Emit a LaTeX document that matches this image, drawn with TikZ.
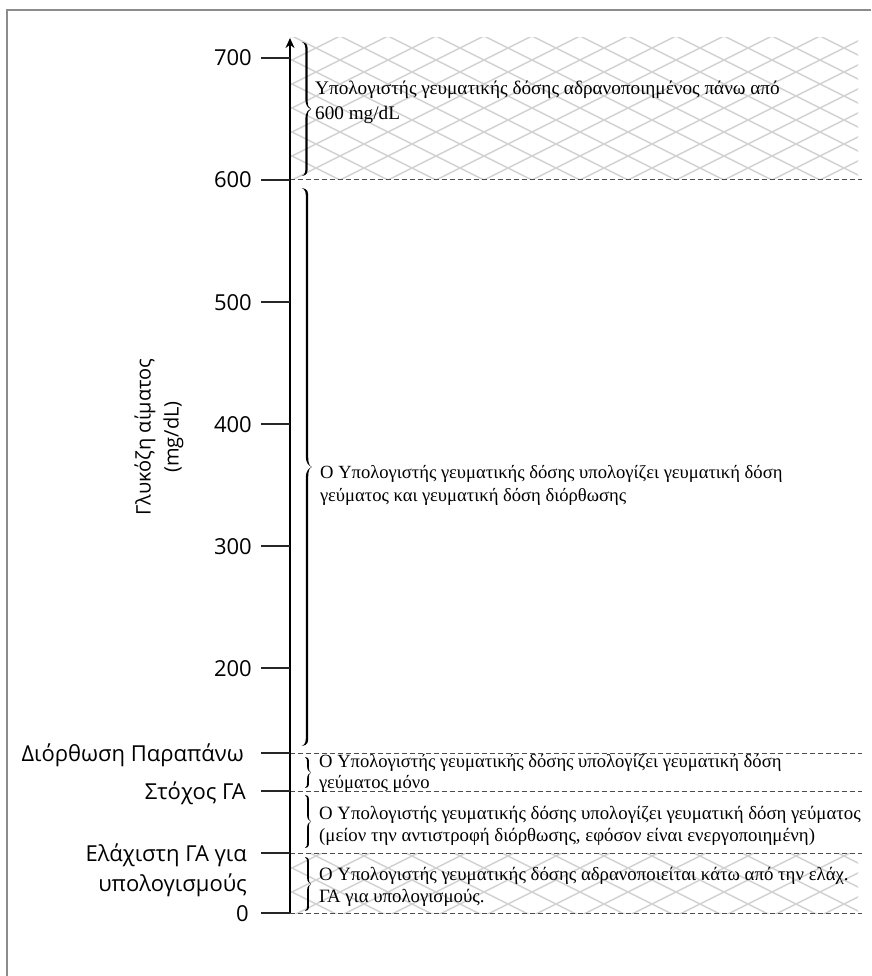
\documentclass[tikz,border=0pt]{standalone}
\usepackage{fontspec}
\setmainfont{Liberation Serif}
\newfontfamily\labelfont{Open Sans}
\usetikzlibrary{arrows.meta}
\definecolor{framegray}{gray}{0.55}
\definecolor{hatchgray}{gray}{0.82}
\definecolor{dashgray}{gray}{0.3}
\newcommand{\twoln}[2]{\begin{tabular}[t]{@{}l@{}}#1\\#2\end{tabular}}
% calligraphic brace pointing right: #1 x, #2 top y, #3 bottom y, #4 amplitude, #5 stroke width
\newcommand{\cbrace}[5]{%
  \pgfmathsetmacro{\bym}{(#2+#3)/2}%
  \pgfmathsetmacro{\bxr}{#1+0.5*#4+0.5*#5}%
  \pgfmathsetmacro{\bxl}{#1+0.5*#4-0.5*#5}%
  \pgfmathsetmacro{\bxt}{#1+#4}%
  \fill[black]
    (#1,#2) .. controls ({\bxr},{#2+0.1*#4}) and ({\bxr},{#2+0.4*#4}) .. ({\bxr},{#2+#4})
    -- ({\bxr},{\bym-#4}) .. controls ({\bxr},{\bym-0.35*#4}) and ({#1+0.75*#4},{\bym-0.08*#4}) .. ({\bxt},{\bym})
    .. controls ({#1+0.75*#4},{\bym+0.08*#4}) and ({\bxr},{\bym+0.35*#4}) .. ({\bxr},{\bym+#4})
    -- ({\bxr},{#3-#4}) .. controls ({\bxr},{#3-0.4*#4}) and ({\bxr},{#3-0.1*#4}) .. (#1,#3)
    .. controls ({\bxl},{#3-0.2*#4}) and ({\bxl},{#3-0.5*#4}) .. ({\bxl},{#3-#4})
    -- ({\bxl},{\bym+#4}) .. controls ({\bxl},{\bym+0.45*#4}) and ({#1+0.7*#4},{\bym+0.05*#4}) .. ({\bxt},{\bym})
    .. controls ({#1+0.7*#4},{\bym-0.05*#4}) and ({\bxl},{\bym-0.45*#4}) .. ({\bxl},{\bym-#4})
    -- ({\bxl},{#2+#4}) .. controls ({\bxl},{#2+0.5*#4}) and ({\bxl},{#2+0.2*#4}) .. (#1,#2) -- cycle;%
}
\begin{document}
\begin{tikzpicture}[x=1pt,y=-1pt,
  lbl/.style={font=\labelfont\fontsize{22}{26}\selectfont, anchor=base east, inner sep=0pt},
  note/.style={font=\fontsize{18.6}{23}\selectfont, anchor=base west, inner sep=0pt},
  tickln/.style={line width=1.2pt, black!85},
  dashln/.style={dashgray, line width=1pt, dash pattern=on 5pt off 3pt},
  hatch/.style={hatchgray, line width=1.4pt},
]
\useasboundingbox (0,0) rectangle (871,976);
% hatched zones
\begin{scope}
  \clip (290,38) rectangle (858,180);
  \foreach \c in {-330,-306,...,500} {
    \draw[hatch] (280,\c) -- (880,\c+300);
    \draw[hatch] (280,\c+300) -- (880,\c);
  }
\end{scope}
\begin{scope}
  \clip (290,853) rectangle (858,913);
  \foreach \c in {430,454,...,1200} {
    \draw[hatch] (280,\c) -- (880,\c+300);
    \draw[hatch] (280,\c+300) -- (880,\c);
  }
\end{scope}
% frame
\coordinate (fb) at (7,976);
\coordinate (ftl) at (7,10);
\coordinate (ftr) at (871,10);
\draw[framegray, line width=2pt] (fb) -- (ftl) -- (ftr);
% dashed levels
\foreach \y/\n in {180/d600,753/dcor,791/dtgt,853/dmin,913/dzero} {
  \coordinate (\n a) at (290,\y);
  \coordinate (\n b) at (862,\y);
  \draw[dashln] (\n a) -- (\n b);
}
% axis
\coordinate (ax0) at (290,913);
\coordinate (axtop) at (290,38);
\draw[line width=1.6pt, -{Stealth[length=10pt,width=9pt]}] (ax0) -- (axtop);
% numeric ticks
\foreach \v/\y in {700/58,600/180,500/302,400/424,300/546,200/668} {
  \node[lbl] (n\v) at (252,\y+8) {\v};
  \coordinate (t\v a) at (261,\y);
  \coordinate (t\v b) at (290,\y);
  \draw[tickln] (t\v a) -- (t\v b);
}
% text ticks
\node[lbl] (lcor) at (244,761) {Διόρθωση Παραπάνω};
\node[lbl] (ltgt) at (246,799) {Στόχος ΓΑ};
\node[lbl] (lmin1) at (247,861) {Ελάχιστη ΓΑ για};
\node[lbl] (lmin2) at (247,891) {υπολογισμούς};
\node[lbl] (lzero) at (249,921) {0};
\foreach \y/\n in {753/cor,791/tgt,853/min,913/zero} {
  \coordinate (t\n a) at (261,\y);
  \coordinate (t\n b) at (290,\y);
  \draw[tickln] (t\n a) -- (t\n b);
}
% axis title
\node[font=\labelfont\fontsize{20}{28}\selectfont, rotate=90, align=center] (ytitle) at (159,437) {Γλυκόζη αίματος\\(mg/dL)};
% braces
\cbrace{302}{42}{176}{9}{2.2}
\cbrace{302}{188}{746}{10}{2.4}
\cbrace{305}{757}{788}{6}{1.8}
\cbrace{305}{795}{848}{6}{1.8}
\cbrace{305}{857}{911}{6}{1.8}
% notes
\node[note, font=\fontsize{19.2}{24.5}\selectfont] (t1) at (315,95) {\twoln{Υπολογιστής γευματικής δόσης αδρανοποιημένος πάνω από}{600 mg/dL}};
\node[note] (t2) at (320,478) {\twoln{Ο Υπολογιστής γευματικής δόσης υπολογίζει γευματική δόση}{γεύματος και γευματική δόση διόρθωσης}};
\node[note, font=\fontsize{18.6}{21.5}\selectfont] (t3) at (319,767) {\twoln{Ο Υπολογιστής γευματικής δόσης υπολογίζει γευματική δόση}{γεύματος μόνο}};
\node[note, font=\fontsize{18.8}{22.5}\selectfont] (t4) at (319,819) {\twoln{Ο Υπολογιστής γευματικής δόσης υπολογίζει γευματική δόση γεύματος}{(μείον την αντιστροφή διόρθωσης, εφόσον είναι ενεργοποιημένη)}};
\node[note, font=\fontsize{18.8}{22.5}\selectfont] (t5) at (319,880) {\twoln{Ο Υπολογιστής γευματικής δόσης αδρανοποιείται κάτω από την ελάχ.}{ΓΑ για υπολογισμούς.}};
\end{tikzpicture}
\end{document}
